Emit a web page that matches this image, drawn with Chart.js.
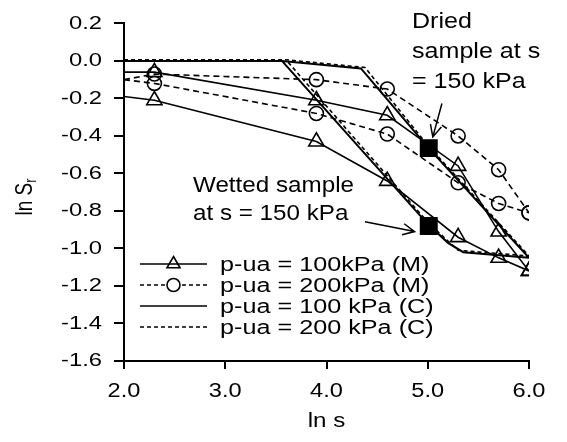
<!DOCTYPE html>
<html><head><meta charset="utf-8">
<script src="https://cdn.jsdelivr.net/npm/chart.js@4.4.1/dist/chart.umd.min.js"></script>
<style>html,body{margin:0;padding:0;background:#fff}#wrap{width:567px;height:442px}</style>
</head><body><div id="wrap"><canvas id="c" width="567" height="442"></canvas></div>
<script>
// ---- data (ln s on x, ln Sr on y) ----
const lnS = [2.0, 2.3, 3.9, 4.6, 5.3, 5.7, 6.0];
const m100Drying  = [-0.06, -0.06, -0.21, -0.29, -0.56, -0.91, -1.12];
const m100Wetting = [-0.19, -0.21, -0.43, -0.64, -0.94, -1.05, -1.12];
const m200Drying  = [-0.10, -0.07, -0.10, -0.15, -0.40, -0.58, -0.81];
const m200Wetting = [-0.10, -0.12, -0.28, -0.39, -0.65, -0.76, -0.81];
const c100LnS = [2.0, 3.56, 4.34, 5.0, 6.0, 5.35, 5.2, 5.0, 3.56];
const c100Sr  = [0.0, 0.0, -0.04, -0.46, -1.05, -1.02, -0.97, -0.87, 0.0];
const c200LnS = [2.0, 3.6, 4.38, 5.0, 6.0, 5.3, 5.2, 5.0, 3.6];
const c200Sr  = [0.006, 0.006, -0.035, -0.45, -1.04, -1.01, -0.96, -0.86, 0.006];
const sampleLnS = [5.01, 5.01];
const sampleSr  = [-0.465, -0.88];
const xTickLabels = ['2.0', '3.0', '4.0', '5.0', '6.0'];
const yTickLabels = ['-1.6', '-1.4', '-1.2', '-1.0', '-0.8', '-0.6', '-0.4', '-0.2', '0.0', '0.2'];
const seriesNames = ['p-ua = 100kPa (M)', 'p-ua = 200kPa (M)', 'p-ua = 100 kPa (C)', 'p-ua = 200 kPa (C)'];
const driedLabel = ['Dried', 'sample at s', '= 150 kPa'];
const wettedLabel = ['Wetted sample', 'at s = 150 kPa'];
// annotation arrows in data units [from, to]
const driedArrow = [[5.14, -0.227], [5.05, -0.405]];
const wettedArrow = [[4.38, -0.857], [4.87, -0.91]];

const pts = (xs, ys) => xs.map((x, i) => ({x, y: ys[i]}));
const FONT = 'Liberation Sans, Arial, sans-serif';

const triStyle = {borderColor:'#000', borderWidth:1.6, pointStyle:'triangle', pointBorderColor:'#000', pointBackgroundColor:'rgba(0,0,0,0)', pointBorderWidth:1.6, showLine:true, borderDash:[]};
const cirStyle = {borderColor:'#000', borderWidth:1.6, pointStyle:'circle', pointBorderColor:'#000', pointBackgroundColor:'rgba(0,0,0,0)', pointBorderWidth:1.6, showLine:true, borderDash:[6,4]};
const skipFirst = r => (ctx => ctx.dataIndex === 0 ? 0 : r);

const datasets = [
  {label: seriesNames[2], data: pts(c100LnS, c100Sr), showLine:true, borderColor:'#000', borderWidth:2, pointRadius:0, borderDash:[]},
  {label: seriesNames[3], data: pts(c200LnS, c200Sr), showLine:true, borderColor:'#000', borderWidth:1.6, pointRadius:0, borderDash:[4,3]},
  Object.assign({label: seriesNames[0], data: pts(lnS, m100Drying), pointRadius: skipFirst(8.8)}, triStyle),
  Object.assign({label: seriesNames[0] + ' w', data: pts(lnS, m100Wetting), pointRadius: skipFirst(8.8)}, triStyle),
  Object.assign({label: seriesNames[1], data: pts(lnS, m200Drying), pointRadius: skipFirst(7)}, cirStyle),
  Object.assign({label: seriesNames[1] + ' w', data: pts(lnS, m200Wetting), pointRadius: skipFirst(7)}, cirStyle),
  {label: 'sample', data: pts(sampleLnS, sampleSr), showLine:false, pointStyle:'rect', pointRadius:12.7, pointBackgroundColor:'#000', pointBorderColor:'#000', pointBorderWidth:0}
];

// stretch text horizontally (reference text is wide)
function wideText(ctx, str, x, y, sx) {
  ctx.save(); ctx.translate(x, y); ctx.scale(sx, 1); ctx.fillText(str, 0, 0); ctx.restore();
}

const tickStretch = {
  id: 'tickStretch',
  beforeDraw(chart) {
    const ctx = chart.ctx;
    const orig = CanvasRenderingContext2D.prototype.fillText;
    ctx.fillText = function(t, x, y) {
      const s = this.textAlign === 'right' ? 1.25 : 1.18;
      this.save(); this.translate(x, y); this.scale(s, 1); orig.call(this, t, 0, 0); this.restore();
    };
  },
  beforeDatasetsDraw(chart) { delete chart.ctx.fillText; }
};

function arrow(ctx, x1, y1, x2, y2) {
  const a = Math.atan2(y2 - y1, x2 - x1), L = 13, h = 0.45;
  ctx.beginPath(); ctx.moveTo(x1, y1); ctx.lineTo(x2, y2);
  ctx.moveTo(x2 - L * Math.cos(a - h), y2 - L * Math.sin(a - h));
  ctx.lineTo(x2, y2);
  ctx.lineTo(x2 - L * Math.cos(a + h), y2 - L * Math.sin(a + h));
  ctx.stroke();
}

const decor = {
  id: 'decor',
  afterDraw(chart) {
    const ctx = chart.ctx, xs = chart.scales.x, ys = chart.scales.y;
    ctx.save();
    ctx.fillStyle = '#000'; ctx.strokeStyle = '#000';
    ctx.textBaseline = 'alphabetic';
    // axis titles
    ctx.font = '21px ' + FONT; ctx.textAlign = 'center';
    wideText(ctx, 'ln s', (chart.chartArea.left + chart.chartArea.right) / 2, 427, 1.15);
    // y title with subscript
    ctx.save();
    ctx.translate(32, 197); ctx.scale(1.25, 1); ctx.rotate(-Math.PI / 2);
    ctx.font = '19px ' + FONT; ctx.textAlign = 'left';
    const w1 = ctx.measureText('ln S').width;
    ctx.font = '13px ' + FONT;
    const w2 = ctx.measureText('r').width;
    const start = -(w1 + w2) / 2;
    ctx.font = '19px ' + FONT;
    ctx.fillText('ln S', start, 0);
    ctx.font = '13px ' + FONT;
    ctx.fillText('r', start + w1, 3);
    ctx.restore();

    // annotations
    ctx.font = '22px ' + FONT; ctx.textAlign = 'left';
    [28, 58, 88].forEach((b, i) => wideText(ctx, driedLabel[i], 412, b, 1.14));
    [192, 220].forEach((b, i) => wideText(ctx, wettedLabel[i], 193, b, 1.1));
    ctx.lineWidth = 1.5; ctx.setLineDash([]);
    [driedArrow, wettedArrow].forEach(a => arrow(ctx,
      xs.getPixelForValue(a[0][0]), ys.getPixelForValue(a[0][1]),
      xs.getPixelForValue(a[1][0]), ys.getPixelForValue(a[1][1])));

    // legend
    const rows = [264, 285, 306, 327];
    const x0 = 140, x1 = 207, xm = (x0 + x1) / 2;
    const styles = [
      {dash: [], lw: 1.6, marker: 'tri'},
      {dash: [4, 3], lw: 1.6, marker: 'cir'},
      {dash: [], lw: 1.6, marker: null},
      {dash: [4, 3], lw: 1.6, marker: null}
    ];
    rows.forEach((y, i) => {
      const s = styles[i];
      ctx.lineWidth = s.lw; ctx.setLineDash(s.dash);
      ctx.beginPath(); ctx.moveTo(x0, y); ctx.lineTo(x1, y); ctx.stroke();
      ctx.setLineDash([]);
      if (s.marker === 'tri') {
        const r = 7.5;
        ctx.beginPath();
        ctx.moveTo(xm, y - r); ctx.lineTo(xm + r * 0.866, y + r * 0.5); ctx.lineTo(xm - r * 0.866, y + r * 0.5); ctx.closePath();
        ctx.stroke();
      } else if (s.marker === 'cir') {
        ctx.fillStyle = '#fff';
        ctx.beginPath(); ctx.arc(xm, y, 6.5, 0, Math.PI * 2); ctx.fill(); ctx.stroke();
      }
      ctx.fillStyle = '#000';
      ctx.font = '20px ' + FONT;
      wideText(ctx, seriesNames[i], 220, y + 7, 1.26);
    });
    ctx.restore();
  }
};

new Chart(document.getElementById('c'), {
  type: 'scatter',
  data: {datasets},
  options: {
    responsive: false, animation: false, devicePixelRatio: 1,
    layout: {padding: {left: 0, right: 38, top: 14, bottom: 0}},
    plugins: {legend: {display: false}, tooltip: {enabled: false}},
    elements: {line: {tension: 0}},
    scales: {
      x: {
        type: 'linear', min: 2, max: 6,
        ticks: {stepSize: 1, callback: (v, i) => xTickLabels[i] ?? v.toFixed(1), color: '#000', font: {family: FONT, size: 20}, padding: 10, maxRotation: 0},
        grid: {drawOnChartArea: false, drawTicks: true, tickLength: 8, color: '#000', tickColor: '#000', lineWidth: 2, tickWidth: 2},
        border: {display: true, color: '#000', width: 2},
        afterFit: s => { s.height = 81; }
      },
      y: {
        min: -1.6, max: 0.2,
        ticks: {stepSize: 0.2, callback: (v, i) => yTickLabels[i] ?? v.toFixed(1), color: '#000', font: {family: FONT, size: 19}, padding: 12},
        grid: {drawOnChartArea: false, drawTicks: true, tickLength: 10, color: '#000', tickColor: '#000', lineWidth: 2, tickWidth: 2},
        border: {display: true, color: '#000', width: 2},
        afterFit: s => { s.width = 124; }
      }
    }
  },
  plugins: [tickStretch, decor]
});
</script>
</body></html>
